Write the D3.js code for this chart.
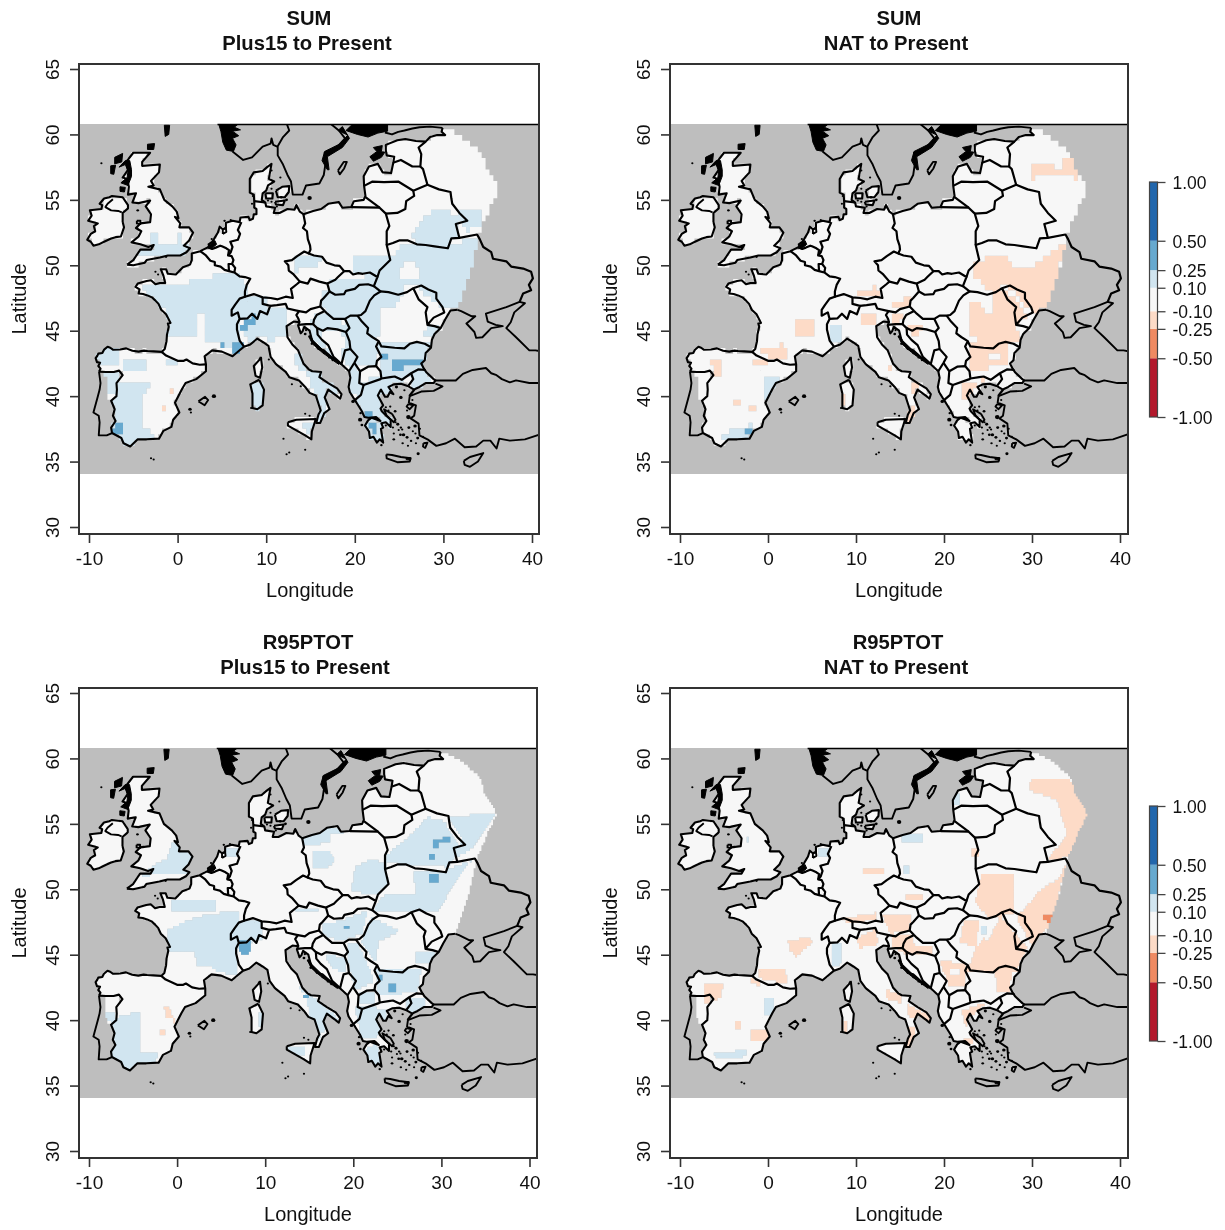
<!DOCTYPE html>
<html><head><meta charset="utf-8">
<script src="https://cdn.jsdelivr.net/npm/d3@7"></script>
<style>
html,body{margin:0;padding:0;background:#fff}
svg{display:block;filter:blur(0.6px)}
text{font-family:"Liberation Sans",Arial,sans-serif;fill:#111}
</style></head><body>
<script>
// ---------- data: class breaks and colours ----------
const breaks=[-1,-0.5,-0.25,-0.1,0.1,0.25,0.5,1];
const classColors=["#b2182b","#ef8a62","#fddbc7","#f7f7f7","#d1e5f0","#67a9cf","#2166ac"];
const xTicks=[-10,0,10,20,30,40];
const yTicks=[30,35,40,45,50,55,60,65];
const L1=0.15,M1=0.35,L2=-0.15,M2=-0.35,Z=0;

// ---------- geography (lon,lat) ----------
const mainlandWest=[[-8.87,41.87],[-8.7,42.1],[-8.95,42.3],[-8.75,42.55],[-9.1,42.6],[-9.25,42.9],[-9.05,43.1],[-8.95,43.25],[-8.5,43.3],[-8.3,43.55],[-7.9,43.77],[-7.6,43.7],[-7.3,43.55],[-6.5,43.57],[-5.8,43.65],[-5.1,43.47],[-4.4,43.4],[-3.8,43.48],[-3.4,43.45],[-2.7,43.42],[-1.8,43.38],[-1.45,43.6],[-1.25,44.2],[-1.2,44.7],[-1.0,45.3],[-1.1,45.55],[-0.8,45.6],[-1.1,46.0],[-1.3,46.25],[-1.85,46.6],[-2.15,47.05],[-2.5,47.3],[-2.9,47.55],[-3.4,47.7],[-3.9,47.8],[-4.4,47.85],[-4.3,48.15],[-4.75,48.35],[-4.5,48.6],[-4.0,48.7],[-3.5,48.8],[-3.0,48.85],[-2.5,48.55],[-2.0,48.65],[-1.4,48.65],[-1.6,49.2],[-1.9,49.7],[-1.3,49.7],[-1.1,49.35],[-0.2,49.3],[0.1,49.5],[0.6,49.85],[1.4,50.05],[1.6,50.4],[1.6,50.9],[2.55,51.08],[3.4,51.37],[3.6,51.45],[3.5,51.6],[3.9,51.8],[4.1,52.0],[4.55,52.5],[4.75,52.95],[5.1,52.75],[5.45,52.85],[5.45,53.25],[6.2,53.4],[7.0,53.3],[7.1,53.65],[8.0,53.7],[8.15,53.45],[8.5,53.55],[8.6,53.9],[8.9,53.9],[8.9,54.3],[8.65,54.4],[8.65,54.9],[8.6,55.4],[8.15,55.55],[8.15,56.2],[8.15,56.6],[8.6,57.1],[9.6,57.2],[10.1,57.5],[10.6,57.75],[10.45,57.2],[10.3,56.6],[10.9,56.4],[10.2,56.1],[10.0,55.7],[9.6,55.5],[9.5,55.0],[9.9,54.8],[10.0,54.5],[11.0,54.4],[10.85,54.0],[11.5,54.0],[12.4,54.3],[13.2,54.25],[13.4,54.6],[13.8,54.1],[14.2,53.9],[15.3,54.15],[16.2,54.3],[17.0,54.7],[18.2,54.83],[18.6,54.4],[19.6,54.45],[19.9,54.9],[21.0,55.0],[21.2,55.3],[21.05,56.07],[21.0,56.8],[21.6,57.55],[22.6,57.75],[23.15,57.1],[24.1,57.05],[24.35,57.85],[24.45,58.3],[23.6,58.4],[23.5,58.8],[23.5,59.2],[24.8,59.55],[25.7,59.65],[26.9,59.5],[28.0,59.45],[28.5,59.8],[29.3,59.95],[30.2,59.95],[29.8,60.2],[29.9,60.5]];
const domainEdge=[[31.1,60.2],[32.4,59.7],[34.4,58.6],[34.8,57.5],[36.3,55.75],[35.6,54.8],[34.1,52.5],[33.0,49.4]];
const mainlandEast=[[31.6,46.6],[30.8,46.55],[30.2,45.85],[29.7,45.2],[29.0,44.75],[28.7,44.3],[28.6,43.7],[28.0,43.3],[27.9,42.75],[27.5,42.5],[27.8,42.1],[28.1,41.8],[28.9,41.3],[29.1,41.2],[28.9,41.0],[28.0,41.0],[27.3,40.7],[26.8,40.55],[26.2,40.05],[26.7,40.5],[26.05,40.75],[25.2,40.95],[24.4,40.9],[23.8,40.7],[24.35,40.15],[23.95,40.3],[23.7,39.95],[23.4,39.95],[22.95,40.5],[22.6,40.05],[23.2,39.3],[22.9,39.05],[23.05,38.85],[23.55,38.5],[24.05,38.2],[24.05,37.65],[23.5,38.0],[23.0,37.93],[23.2,37.6],[22.95,37.5],[23.2,36.45],[22.8,36.7],[22.5,36.45],[22.1,36.9],[21.7,36.8],[21.6,37.3],[21.15,37.75],[21.5,38.15],[21.9,38.35],[22.9,38.1],[22.4,38.4],[21.5,38.35],[21.1,38.4],[20.75,38.9],[20.2,39.5],[20.0,39.7],[19.45,40.3],[19.3,40.7],[19.5,41.4],[19.35,41.9],[18.55,42.4],[17.5,42.9],[16.5,43.5],[15.9,43.6],[15.2,44.2],[14.9,45.0],[14.3,45.3],[14.1,44.95],[13.9,44.8],[13.6,45.4],[13.75,45.65],[13.1,45.7],[12.3,45.35],[12.4,44.5],[13.0,43.9],[13.6,43.5],[14.2,42.5],[14.8,42.05],[15.2,41.9],[16.2,41.85],[16.0,41.45],[17.0,41.0],[18.0,40.6],[18.5,40.15],[18.35,39.8],[18.0,40.0],[17.0,40.5],[16.6,39.9],[17.15,39.0],[16.55,38.7],[16.1,37.95],[15.65,37.95],[15.9,38.6],[16.15,38.9],[15.6,40.05],[14.9,40.25],[14.4,40.7],[13.7,41.2],[12.6,41.45],[12.2,41.85],[11.1,42.45],[10.5,43.0],[10.25,43.85],[9.7,44.1],[9.0,44.4],[8.2,43.95],[7.5,43.78],[6.9,43.45],[6.2,43.05],[5.0,43.4],[3.9,43.5],[3.05,43.05],[3.2,42.43],[3.2,41.9],[2.1,41.3],[0.9,41.0],[0.5,40.55],[-0.3,39.5],[0.2,38.75],[-0.5,38.2],[-0.7,37.65],[-1.6,37.35],[-2.1,36.75],[-3.5,36.7],[-4.5,36.7],[-5.35,36.15],[-6.1,36.4],[-6.35,36.8],[-7.4,37.18],[-7.5,37.6],[-7.0,38.1],[-7.3,38.5],[-7.1,39.0],[-7.5,39.65],[-6.9,40.0],[-6.85,40.5],[-6.9,41.0],[-6.2,41.6],[-6.6,41.95],[-7.2,41.85],[-8.1,41.85],[-8.87,41.87]];
const ireland=[[-6.2,53.3],[-6.05,52.9],[-6.4,52.2],[-7.0,52.15],[-7.5,52.05],[-8.3,51.8],[-8.9,51.6],[-9.5,51.5],[-9.8,51.8],[-10.2,51.95],[-9.8,52.4],[-9.3,52.6],[-9.45,53.0],[-9.0,53.2],[-10.1,53.4],[-9.7,53.8],[-9.9,54.2],[-8.6,54.3],[-8.5,54.6],[-8.8,54.7],[-8.3,55.1],[-7.7,55.2],[-7.4,55.3],[-6.2,55.2],[-5.6,54.6],[-5.6,54.35],[-6.2,54.0],[-6.2,53.3]];
const britain=[[-5.7,50.05],[-5.0,50.4],[-4.5,50.9],[-4.2,51.2],[-3.0,51.2],[-2.7,51.55],[-3.3,51.4],[-4.2,51.6],[-5.2,51.75],[-4.4,52.2],[-4.1,52.6],[-4.7,52.85],[-4.2,53.2],[-3.1,53.3],[-3.0,53.9],[-3.6,54.5],[-3.1,54.95],[-4.4,54.75],[-5.1,54.8],[-4.7,55.5],[-5.6,55.4],[-5.5,56.0],[-5.7,56.6],[-6.2,56.7],[-5.6,57.3],[-5.8,57.9],[-5.0,58.6],[-3.1,58.6],[-4.0,57.9],[-4.0,57.6],[-2.0,57.7],[-2.1,57.1],[-3.0,56.45],[-2.7,56.1],[-3.3,56.0],[-2.0,55.8],[-1.5,55.0],[-0.6,54.5],[-0.1,54.1],[0.1,53.6],[-0.3,53.7],[0.3,53.2],[0.2,52.9],[0.5,52.9],[1.3,52.9],[1.75,52.5],[1.3,51.9],[0.7,51.5],[1.4,51.3],[1.0,51.0],[0.3,50.75],[-1.1,50.75],[-2.0,50.6],[-3.5,50.4],[-3.7,50.2],[-5.0,50.0],[-5.7,50.05]];
const corsica=[[9.4,43.0],[9.55,42.2],[9.3,41.4],[8.8,41.55],[8.6,42.3],[9.2,42.75],[9.4,43.0]];
const sardinia=[[9.2,41.25],[9.75,40.5],[9.6,39.3],[9.0,39.0],[8.45,39.1],[8.45,40.2],[8.2,40.9],[9.2,41.25]];
const sicily=[[12.45,38.0],[13.4,38.2],[15.6,38.25],[15.15,37.3],[15.1,36.7],[14.4,37.0],[13.1,37.5],[12.45,37.75],[12.45,38.0]];
const zealand=[[11.1,55.7],[11.8,56.0],[12.6,56.05],[12.55,55.6],[12.1,55.2],[11.3,55.2],[11.1,55.7]];
const funen=[[9.9,55.5],[10.75,55.5],[10.7,55.1],[10.0,55.1],[9.9,55.5]];
const lolland=[[11.0,54.85],[12.1,54.95],[11.9,54.6],[11.1,54.65],[11.0,54.85]];
const portugalPart=[[-8.2,41.85],[-6.6,41.95],[-6.85,40.5],[-6.9,40.0],[-7.5,39.65],[-8.0,39.9],[-8.2,41.85]];
const dataMask=[mainlandWest.concat(domainEdge,mainlandEast),ireland,britain,corsica,sardinia,sicily,zealand,funen,lolland,portugalPart];

const otherCoasts=[
 [[-8.87,41.87],[-8.7,41.0],[-8.8,40.5],[-9.0,40.0],[-9.5,38.75],[-8.9,38.5],[-8.8,38.0],[-8.9,37.0],[-8.0,37.0],[-7.4,37.18]],
 [[6.2,58.7],[7.4,58.05],[8.4,58.25],[9.6,59.07],[10.5,59.3],[10.6,59.7],[10.8,59.2],[11.3,59.05],[11.3,58.4],[11.9,57.7],[12.4,56.9],[12.8,56.4],[13,55.4],[14.1,55.4],[14.5,56.1],[16,56.25],[16.5,56.9],[16.7,57.8],[16.6,58.6],[17.8,58.9],[18.9,59.7],[18.2,60.3],[17.3,60.8]],
 [[12.3,60.85],[12.6,60.3],[11.9,59.8],[11.3,59.1]],
 [[23.4,60.15],[24.2,60.0],[24.9,60.2],[25.6,60.3],[26.5,60.45],[27.3,60.55],[28.5,60.6],[29.9,60.5]],
 [[31.6,46.6],[32.0,46.5],[33.2,46.1],[33.6,46.1],[32.6,45.55],[33.5,44.9],[33.7,44.45],[34.4,44.5],[35.4,45.2],[36.7,45.35],[35.9,45.45],[35.0,45.7],[34.8,46.3],[37.1,46.8],[38.6,47.2],[39.2,47.1],[38.0,46.4],[37.6,45.65],[37.1,45.2],[38.2,44.5],[39.7,43.5],[40.4,43.5],[41.2,43.4]],
 [[29.1,41.2],[30.3,41.2],[31.4,41.2],[32.2,41.7],[33.3,42.0],[34.8,42.15],[35.4,41.75],[36,41.6],[36.6,41.3],[37.5,41.05],[38.2,41.2],[39.7,41.0],[41.2,41.0]],
 [[26.2,40.0],[27.5,40.35],[28.9,40.4],[29.9,40.75],[29.1,40.95]],
 [[26.2,40.0],[26.1,39.5],[26.9,39.3],[26.7,38.5],[26.3,38.3],[27.2,37.9],[27.3,37.0],[28.2,36.7],[28.4,36.6],[29.2,36.2],[30.3,36.4],[31.3,36.75],[32.4,36.1],[33.7,36.15],[34.5,36.6],[35.3,36.6],[36,36],[36.3,36.75],[37.5,36.6],[39.2,36.7],[41.2,37.15]]
];
const borders=[
 [[-1.8,43.38],[-1.3,43.1],[-0.8,42.95],[0.0,42.7],[0.7,42.7],[1.0,42.8],[1.7,42.5],[2.5,42.4],[3.15,42.43]],
 [[2.55,51.08],[3.2,50.75],[3.7,50.35],[4.2,50.25],[4.2,50.0],[4.85,49.9],[5.3,49.65],[5.8,49.55],[6.4,49.45],[7.0,49.15],[7.6,49.1],[8.2,48.97],[7.8,48.5],[7.6,48.0],[7.6,47.6],[7.0,47.45],[6.5,47.0],[6.1,46.6],[6.1,46.15],[6.8,46.4],[7.0,45.9],[6.7,45.5],[6.7,45.1],[7.0,44.25],[7.5,43.78]],
 [[3.4,51.37],[3.9,51.25],[4.3,51.35],[4.8,51.5],[5.0,51.45],[5.5,51.3],[5.8,51.15],[5.7,50.75],[6.1,50.7],[6.3,50.4],[6.15,50.1],[6.5,49.8],[6.4,49.45]],
 [[5.8,49.55],[5.75,50.1],[6.15,50.1]],
 [[5.7,50.75],[6.0,51.0],[6.2,51.4],[5.95,51.8],[6.8,51.95],[7.05,52.4],[6.8,52.7],[7.2,53.3]],
 [[8.65,54.9],[9.9,54.8]],
 [[14.2,53.9],[14.4,53.2],[14.15,52.85],[14.6,52.6],[14.7,52.0],[14.95,51.5],[15.0,51.2],[14.8,50.9],[14.3,51.05],[13.5,50.7],[12.9,50.4],[12.1,50.3],[12.5,50.0],[12.55,49.6],[13.1,49.3],[13.8,48.75],[13.45,48.55],[12.8,48.2],[13.0,47.5],[12.2,47.6],[11.3,47.4],[10.5,47.5],[9.6,47.55],[8.6,47.8],[7.6,47.6]],
 [[9.6,47.55],[9.6,47.05],[10.45,46.9],[10.1,46.25],[9.3,46.5],[9.0,45.9],[8.4,46.3],[7.9,45.95],[7.0,45.9]],
 [[10.45,46.9],[11.2,46.95],[12.2,47.05],[12.4,46.7],[13.7,46.5],[13.4,46.2],[13.65,45.9],[13.75,45.65]],
 [[13.7,46.5],[14.5,46.4],[15.0,46.65],[16.1,46.85],[16.2,47.3],[16.5,47.5],[17.15,48.0],[16.9,48.6],[16.0,48.75],[15.0,48.98],[14.7,48.6],[13.8,48.75]],
 [[14.8,50.9],[15.4,50.75],[16.3,50.65],[16.8,50.2],[17.7,50.0],[18.3,49.95],[18.8,49.55],[18.1,49.1],[17.8,48.9],[16.9,48.6]],
 [[18.8,49.55],[19.4,49.55],[19.8,49.3],[20.4,49.4],[20.9,49.35],[21.7,49.45],[22.55,49.1],[22.15,48.4],[21.5,48.55],[20.5,48.5],[20.0,48.2],[19.0,48.05],[18.8,47.8],[17.8,47.75],[17.15,48.0]],
 [[22.15,48.4],[22.9,48.0],[22.2,47.7],[21.7,47.3],[21.2,46.5],[20.7,46.2],[20.3,46.15],[19.5,46.15],[18.9,45.9],[17.6,45.9],[16.9,46.3],[16.6,46.5],[16.1,46.85]],
 [[16.6,46.5],[15.7,46.2],[15.4,45.85],[15.3,45.5],[14.5,45.5],[13.6,45.45]],
 [[15.3,45.5],[15.75,45.2],[15.8,44.7],[16.3,44.3],[17.0,43.9],[17.6,43.0],[18.5,42.45]],
 [[15.75,45.2],[16.4,45.0],[16.9,45.2],[18.0,45.1],[19.0,44.9],[19.4,45.2],[18.9,45.9]],
 [[19.0,44.9],[19.4,44.2],[19.5,43.6],[18.9,43.5],[18.5,42.45]],
 [[19.5,43.6],[20.3,43.0],[19.95,42.55],[19.35,41.9]],
 [[19.95,42.55],[20.6,41.9],[20.5,41.0],[21.0,40.85],[22.9,41.3],[23.0,41.35],[22.9,41.9],[22.4,42.3],[21.5,42.25],[20.6,41.9]],
 [[21.0,40.85],[20.7,40.1],[20.0,39.7]],
 [[22.4,42.3],[22.5,42.7],[23.0,43.0],[22.4,43.8],[22.7,44.2],[22.0,44.5],[21.4,44.8],[21.5,45.2],[20.8,45.7],[20.3,46.15]],
 [[22.7,44.2],[23.0,43.8],[24.5,43.7],[25.6,43.65],[26.2,44.0],[27.0,44.15],[27.9,44.0],[28.55,43.75]],
 [[22.9,48.0],[23.8,47.95],[24.9,47.75],[25.9,47.95],[26.6,48.25],[27.5,48.45],[28.3,48.15],[29.2,47.9],[29.2,47.45],[29.9,46.8],[30.1,46.4],[28.9,46.0],[28.2,45.45],[28.0,46.4],[28.2,46.8],[27.2,47.4],[26.6,48.25]],
 [[28.2,45.45],[29.0,45.35],[29.7,45.2]],
 [[23.0,41.35],[24.0,41.45],[24.5,41.5],[25.3,41.25],[26.35,41.75],[27.2,42.05],[28.0,42.0]],
 [[26.35,41.75],[26.6,41.3],[26.05,40.8]],
 [[22.55,49.1],[22.8,49.6],[24.0,50.4],[23.6,51.55],[24.3,51.7],[25.0,51.9],[26.0,51.9],[27.0,51.6],[28.0,51.55],[29.0,51.45],[30.5,51.3],[30.9,52.05],[31.8,52.1],[33.8,52.35],[34.1,52.0],[34.5,51.4],[35.4,51.0],[35.6,50.5],[37.1,50.3],[37.65,49.9],[39.0,49.75],[39.9,49.5],[40.1,49.0],[39.65,48.5],[39.9,48.1],[39.0,47.85],[38.6,47.2]],
 [[23.6,51.55],[23.6,52.6],[23.9,53.0],[23.5,53.95],[22.8,54.4],[19.6,54.45]],
 [[22.8,54.4],[21.2,55.2]],
 [[23.5,53.95],[24.8,54.0],[25.7,54.3],[25.8,54.9],[26.7,55.3],[26.6,55.7],[28.2,56.15],[29.5,55.8],[30.8,55.6],[30.9,55.1],[31.0,54.7],[31.8,54.0],[32.7,53.4],[31.4,53.15],[31.8,52.1]],
 [[21.05,56.07],[22.0,56.4],[23.3,56.35],[24.9,56.4],[26.6,55.7]],
 [[28.2,56.15],[27.7,57.35],[27.4,57.55],[27.5,58.5],[27.2,59.0],[28.0,59.45]],
 [[24.4,57.85],[25.2,58.05],[26.5,57.55],[27.4,57.55]]
];
// solid black clusters of fjords and skerries
const blackMasses=[
 [[4.6,60.88],[7.0,60.88],[6.4,60.55],[7.1,60.35],[6.2,60.25],[6.9,59.9],[6.2,59.7],[6.6,59.2],[6.3,58.7],[5.5,58.8],[5.1,59.4],[4.9,60.2]],
 [[19.0,60.3],[19.9,60.88],[23.7,60.88],[23.7,60.25],[22.6,60.1],[21.5,59.8],[20.3,60.0]],
 [[19.2,59.95],[18.4,59.3],[16.6,58.7],[16.3,58.0],[16.9,57.3],[17.1,57.3],[16.9,58.3],[18.6,59.0],[19.4,59.7],[18.6,60.6],[18.1,60.3]],
 [[21.7,58.3],[22.5,58.7],[23.4,58.65],[23.0,58.25],[22.1,57.95]],
 [[22.1,59.0],[23.1,59.15],[23.0,58.7],[22.4,58.75]],
 [[-6.6,57.5],[-5.9,57.7],[-5.6,57.2],[-5.7,56.7],[-6.4,56.3],[-5.6,56.1],[-5.2,56.8],[-5.2,57.3],[-5.4,58.0],[-5.9,58.0]],
 [[-7.1,58.25],[-6.2,58.55],[-6.3,57.9],[-7.1,57.75]],
 [[-7.55,57.6],[-7.0,57.65],[-7.2,56.95],[-7.55,57.0]],
 [[-6.5,56.0],[-5.9,55.95],[-6.0,55.6],[-6.5,55.65]],
 [[-1.5,60.7],[-0.9,60.7],[-1.0,60.0],[-1.4,59.85]],
 [[-3.4,59.25],[-2.6,59.3],[-2.7,58.85],[-3.4,58.85]],
 [[3.4,51.45],[4.2,51.9],[4.4,51.6],[3.8,51.25]],
 [[15.0,44.6],[15.3,44.25],[16.3,43.6],[17.4,43.0],[18.3,42.5],[18.2,42.42],[17.3,42.85],[16.3,43.35],[15.2,44.0],[14.85,44.5]],
 [[25.8,35.3],[26.3,35.3],[26.3,35.1],[25.8,35.15]]
];
// closed outlines only (fill stays grey or white)
const islandLoops=[
 [[18.1,57.25],[18.75,57.9],[19.1,57.9],[18.8,57.4],[18.3,56.95],[18.1,57.25]],
 [[23.55,35.55],[24.2,35.5],[25.2,35.35],[26.3,35.25],[26.2,35.0],[24.8,34.95],[23.6,35.25],[23.55,35.55]],
 [[32.3,35.05],[33.0,35.35],[34.5,35.65],[33.9,35.0],[33.0,34.6],[32.4,34.75],[32.3,35.05]],
 [[2.35,39.6],[3.1,39.95],[3.45,39.7],[3.05,39.3],[2.6,39.5],[2.35,39.6]],
 [[5.1,52.4],[5.5,52.55],[5.45,52.85],[5.1,52.75],[5.1,52.4]],
 [[24.2,38.65],[23.3,39.0],[23.6,38.5],[24.4,38.0],[24.6,38.2],[24.2,38.65]],
 [[26.05,39.4],[26.6,39.3],[26.2,39.0],[25.85,39.2],[26.05,39.4]],
 [[27.75,36.4],[28.2,36.45],[27.95,36.05],[27.7,36.15],[27.75,36.4]],
 [[-4.6,53.4],[-4.2,53.4],[-4.2,53.15],[-4.6,53.2],[-4.6,53.4]],
 [[-7.3,55.05],[-7.9,54.7],[-8.15,54.45],[-7.5,54.2],[-6.7,54.15],[-6.3,54.05]]
];
// small islets: lon, lat, radius in degrees
const islets=[[-8.6,57.8,.08],[-3.0,35.25,.07],[-2.7,35.15,.06],[12.3,35.55,.08],[11.95,36.75,.09],[12.6,35.7,.06],[14.4,35.9,.1],[14.9,38.5,.09],[14.4,38.65,.06],[10.3,42.8,.1],[12.9,40.9,.06],[13.9,40.75,.07],[8.3,39.1,.06],[1.4,39.0,.2],[4.1,40.0,.24],[1.5,38.75,.09],[-1.3,50.65,.14],[-4.5,54.2,.15],[-2.2,49.3,.07],[-2.5,49.5,.06],[14.9,55.15,.25],[11.2,54.5,.12],[13.4,54.45,.18],[10.6,55.85,.1],[10.6,57.25,.08],[11.6,56.7,.08],[5.3,53.4,.14],[6.0,53.47,.1],[8.4,54.7,.12],[8.5,55.3,.1],[3.85,52.0,.07],[11.7,55.2,.16],[12.3,55.0,.16],[10.2,54.95,.12],[10.6,54.85,.12],[14.5,45.05,.14],[14.4,44.75,.16],[14.9,44.55,.16],[15.15,44.0,.14],[16.55,43.3,.16],[16.9,43.15,.14],[17.1,42.95,.12],[17.5,42.75,.1],[19.8,39.6,.2],[20.65,38.7,.14],[20.6,38.2,.24],[20.8,37.8,.16],[23.0,36.25,.14],[24.7,40.7,.18],[25.6,40.45,.13],[25.2,39.9,.2],[24.55,38.85,.16],[23.5,39.15,.13],[24.0,39.2,.13],[24.85,37.85,.18],[25.2,37.6,.14],[24.95,37.42,.12],[25.35,37.45,.13],[24.3,37.6,.13],[24.4,37.15,.12],[24.4,36.7,.15],[25.15,37.05,.16],[25.5,37.05,.2],[25.9,36.85,.17],[25.4,36.4,.14],[26.1,37.6,.17],[26.8,37.72,.2],[26.05,38.4,.26],[26.55,37.32,.11],[26.85,37.15,.13],[27.1,36.8,.17],[26.35,36.58,.14],[27.15,35.6,.18],[27.35,37.5,.12],[26.0,36.2,.1],[23.5,37.75,.12],[23.8,38.9,.12],[24.6,38.0,.12],[26.9,36.4,.12],[27.7,36.9,.12],[26.5,39.7,.12],[25.9,38.9,.1]];

// ---------- data: read regional values for each panel (lon,lat rings) ----------
const sumPlus15Regions=[
 {v:L1,ring:[[-4.6,48.6],[0,48.5],[2.5,48.9],[5,49.4],[6.8,49.4],[8,48],[7.7,47],[6.9,46],[7.1,44.5],[6.8,43.5],[5,43.9],[3.2,44.1],[3.3,45],[3,46.3],[2.2,46.3],[2.0,44.5],[-1.3,44.6],[-1.3,46.5],[-2.4,47.2]]},
 {v:L1,ring:[[6.2,47.5],[10,47.6],[10,46.2],[8,45.9],[6.2,46.1]]},
 {v:L1,ring:[[8.8,46.6],[12.3,46.8],[12.3,45.5],[12.4,44.5],[10.6,44.3],[9.0,44.4],[8,44.2],[7.2,45]]},
 {v:L1,ring:[[13.6,43.6],[15.2,42.2],[16.8,41.3],[18.6,40.1],[16.6,39.5],[16.8,38.6],[16,38],[15.4,40.2],[14.8,41.4],[13.1,42.6]]},
 {v:L1,ring:[[8.0,41.0],[9.9,41.0],[9.9,39],[8.0,39]]},
 {v:L1,ring:[[13.8,37.9],[15.2,37.9],[15.2,37.2],[14.5,37.2]]},
 {v:M1,ring:[[6.9,44.9],[7.6,45.0],[9.1,45.95],[8.5,46.2],[7.5,45.6],[7.1,45.3]]},
 {v:M1,ring:[[4.7,44.05],[5.5,44.05],[5.5,43.6],[4.7,43.6]]},
 {v:M1,ring:[[6.05,43.9],[7.45,43.9],[7.45,43.35],[6.05,43.35]]},
 {v:L1,ring:[[-4.5,51.6],[-3.3,51.7],[-3.2,52.5],[-2.4,52.5],[-2.4,51.7],[-0.2,51.75],[-0.2,52.5],[0.6,52.5],[0.6,51.7],[1.5,51.7],[1.5,50.7],[-4.5,50.6]]},
 {v:L1,ring:[[27.0,53],[28.8,54.2],[30.3,54.35],[31.8,53.4],[31.45,52.2],[30.3,51.4],[26.2,51.9]]},
 {v:L1,ring:[[31.5,54.35],[34.3,54.4],[34.2,53],[32.6,52.6],[31.9,53.2]]},
 {v:L1,ring:[[23.9,50.4],[25.4,51.7],[30.3,51.4],[34.5,52.3],[31.9,46.6],[30,46.6],[27,48.4],[22.7,48.1],[22.2,48.6],[23.5,49.4]]},
 {v:Z,ring:[[25,49.9],[26.9,50.4],[27.2,49.2],[25.3,48.9]]},
 {v:L1,ring:[[17,48.9],[19.5,49.0],[22.4,48.9],[22.4,47.9],[17,47.7]]},
 {v:L1,ring:[[19.8,50.6],[24.1,50.7],[23.8,49.3],[22.5,49.0],[20,49.3]]},
 {v:L1,ring:[[16.1,47.9],[18.6,48.2],[20,48.6],[22.2,48.5],[22.9,47.9],[21.5,46.9],[20.3,45.9],[18.6,45.7],[16.8,46.1]]},
 {v:M1,ring:[[19.8,47.4],[20.5,47.4],[20.5,47.2],[19.8,47.2]]},
 {v:L1,ring:[[13,50.7],[16.2,50.5],[15.5,49.9],[13,49.5]]},
 {v:L1,ring:[[15.5,46.3],[18.6,45.7],[19.2,44.7],[16.5,45.0],[15.9,44.6],[17.4,43.4],[17.5,42.7],[15.2,44.2],[14.9,45.4]]},
 {v:L1,ring:[[19,46],[22.5,45.5],[22.6,43.0],[22.3,42.2],[19.9,42.3],[18.9,42.2],[18.6,43.4],[19.1,44.9]]},
 {v:L1,ring:[[19.2,42.8],[20.7,42],[20.8,40.0],[19.2,40.2]]},
 {v:L1,ring:[[21.5,47.9],[25.4,47.9],[24.5,46.6],[23,46.7],[22.7,45.5],[23,44.3],[21.5,44.5],[20.2,46]]},
 {v:L1,ring:[[22.8,44.4],[28.8,44.4],[29.5,45.4],[27.9,45.2],[27.9,44.6],[23.0,44.6]]},
 {v:L1,ring:[[22.5,44],[28.8,43.9],[28.3,42.2],[27.5,41.6],[23,41.4]]},
 {v:M1,ring:[[24.2,42.95],[27.7,42.95],[27.7,42.55],[25.5,42.55],[25.4,41.9],[24.2,41.95]]},
 {v:M1,ring:[[23.0,43.3],[23.6,43.3],[23.6,42.8],[23.0,42.8]]},
 {v:L1,ring:[[26.3,41.9],[28.4,41.8],[28.8,41],[26.2,40.6]]},
 {v:L1,ring:[[20.8,41.2],[26.2,41.6],[24.2,40.8],[23.5,39.2],[24.2,38],[23,36.4],[21.2,37],[20,39.2]]},
 {v:M1,ring:[[21.2,39],[21.9,38.95],[21.9,38.5],[21.2,38.5]]},
 {v:M1,ring:[[21.4,38.1],[22.6,38.1],[22.6,37],[22.1,37],[21.7,37.5]]},
 {v:L1,ring:[[-9.4,43.9],[-6.4,43.9],[-6.4,42.5],[-8.9,42.2]]},
 {v:L1,ring:[[-6,43.0],[-3.6,43.0],[-3.6,41.9],[-6,41.9]]},
 {v:L1,ring:[[-8.2,41.9],[-6.6,41.9],[-6.7,40.1],[-7.5,39.9],[-8.0,40.1]]},
 {v:L1,ring:[[-7.0,41],[-2.8,41],[-4.1,40],[-4.1,37.4],[-2,37.2],[-3,36.6],[-5.6,36],[-7.6,37.1],[-7.4,39]]},
 {v:L1,ring:[[-1.5,42.7],[0.1,42.7],[0.1,42.2],[-1.5,42.2]]},
 {v:M1,ring:[[-7.0,38.1],[-6,38.1],[-6,37],[-7.4,37]]},
 {v:L2,ring:[[-1,40.6],[-0.4,40.6],[-0.4,40.2],[-1,40.2]]},
 {v:L2,ring:[[-1.6,39.1],[-1.2,39.1],[-1.2,38.9],[-1.6,38.9]]}
];
const sumNatRegions=[
 {v:L2,ring:[[23.5,50.1],[26.4,51],[28.5,49.6],[30.5,50.1],[33.9,51.7],[31.7,46.6],[30,46.4],[27.2,48.4],[24.8,48],[23.3,49.4]]},
 {v:L2,ring:[[23,47],[23.7,47.3],[25.2,46],[25.6,47.9],[27.1,48.2],[29.4,46.1],[28.1,45.5],[29.2,44],[22.6,44.4],[23,46]]},
 {v:L2,ring:[[22.8,44],[27.4,44],[27.5,42.2],[25.4,42.6],[25.2,42],[22.9,42]]},
 {v:Z,ring:[[25.0,43.1],[26.3,43.1],[26.3,42.6],[25.0,42.6]]},
 {v:L2,ring:[[22,41.1],[24.5,41.3],[23,40],[22,39.8]]},
 {v:L2,ring:[[30,58],[33.4,57.4],[33.8,58.4],[34.9,58.1],[35.1,56.6],[32.8,57],[30.5,57],[30,56.4]]},
 {v:L2,ring:[[2.9,46],[4,45.7],[5.2,46.1],[5.2,44.6],[3.3,44.6]]},
 {v:L2,ring:[[-1.1,43.5],[1.75,44],[2.5,42.7],[0.2,42.9]]},
 {v:L2,ring:[[10.5,46.4],[12.2,46.2],[12.3,45.7],[10.6,45.3]]},
 {v:L2,ring:[[13.9,46.5],[15.8,46.5],[15,45.5],[14,45.5]]},
 {v:L2,ring:[[13.9,46.8],[16.3,47.9],[16.2,46.8]]},
 {v:L2,ring:[[9.7,47.8],[12.4,48.4],[12.7,47.6],[10,47.6]]},
 {v:L2,ring:[[15.4,45.5],[17.6,45.5],[16.9,44.5],[16,44.8]]},
 {v:L2,ring:[[-6.6,42.7],[-5.5,42.7],[-5.3,41.2],[-6.2,41.7]]},
 {v:L2,ring:[[-2,42.9],[-0.2,42.6],[-0.2,42.35],[-2,42.6]]},
 {v:L2,ring:[[-4.1,39.9],[-3.0,39.9],[-3.0,39.1],[-4.1,39.1]]},
 {v:L2,ring:[[-2.2,39.3],[-1.5,39.3],[-1.5,38.8],[-2.2,38.8]]},
 {v:L2,ring:[[13.5,42.4],[14.1,42.4],[14.1,41.9],[13.5,41.9]]},
 {v:L2,ring:[[16.1,41],[17.2,40.9],[17.2,40.4],[16.1,40.3]]},
 {v:L2,ring:[[16,39.4],[16.7,39.4],[16.7,38.4],[15.8,38]]},
 {v:L2,ring:[[8.5,40],[9,40],[9,39.1],[8.5,39.1]]},
 {v:L1,ring:[[-0.5,41.3],[1.8,41.7],[1,40.7],[-0.2,39.8],[-0.6,39.7]]},
 {v:L1,ring:[[7.1,45.6],[8.2,45.6],[8.2,44.3],[7.1,44.0]]},
 {v:L1,ring:[[-5.6,37.2],[-2.8,37.4],[-1.9,37.8],[-1.7,36.9],[-5,36.4]]},
 {v:M1,ring:[[-2.8,37.6],[-1.8,37.6],[-1.9,37.0],[-2.8,37.0]]},
 {v:L1,ring:[[3.1,44.3],[3.5,44.3],[3.5,43.9],[3.1,43.9]]},
 {v:L1,ring:[[15.4,53.9],[16,53.9],[16,53.75],[15.4,53.75]]}
];
const r95Plus15Regions=[
 {v:L1,ring:[[23.9,52.7],[26,53.8],[28.4,55.5],[30.3,55.2],[32.2,53.2],[30.7,51.7],[23.5,52]]},
 {v:L1,ring:[[30.7,55.5],[36.4,55.9],[33.7,53.2],[31.7,52.4],[32.3,54]]},
 {v:M1,ring:[[29.0,53.9],[30.2,53.9],[30.2,54.0],[31.0,54.0],[31.0,53.5],[29.6,53.5],[29.6,53.2],[29.0,53.2]]},
 {v:M1,ring:[[28.6,52.8],[29.3,52.8],[29.3,52.3],[28.6,52.3]]},
 {v:L1,ring:[[26.9,51.4],[30.3,51.4],[33.4,52.2],[31.9,50.9],[29.6,48.3],[27,48.3],[22.3,48.3],[23.2,49.5],[27,49.6]]},
 {v:M1,ring:[[28.7,51.1],[29.6,51.1],[29.6,50.6],[28.7,50.6]]},
 {v:L1,ring:[[14.3,54.6],[16.5,54.7],[18.6,54.8],[19.0,54],[16.5,53.5],[14.4,53.3]]},
 {v:L1,ring:[[15.3,52.8],[17.2,52.9],[17.9,52.2],[17.2,51.7],[15.3,51.7]]},
 {v:L1,ring:[[20.2,51.7],[22,52.3],[23.8,52.0],[23.9,50.4],[22.5,49.5],[19.8,49.9]]},
 {v:Z,ring:[[17.3,54.3],[19.6,54.3],[19.6,53.5],[17.3,53.5]]},
 {v:L1,ring:[[-1.2,46.8],[1,47.6],[3,48],[5,48.2],[7,48.2],[7,46.5],[6.8,43.5],[5,43.6],[3.6,44.1],[2.2,44.1],[2,45.2],[-1.2,45.3]]},
 {v:L1,ring:[[-0.6,49.1],[4.4,49.1],[4.4,48.4],[-0.6,48.2]]},
 {v:L1,ring:[[6.2,47.5],[9.7,47.6],[9.7,46.2],[8,45.9],[6.2,46.1]]},
 {v:M1,ring:[[7,46.0],[8.3,46.1],[8.4,45.2],[7.2,44.9]]},
 {v:M1,ring:[[4.3,47.75],[4.5,47.75],[4.5,47.5],[4.3,47.5]]},
 {v:L1,ring:[[16.4,47.3],[18.6,47.6],[21.7,48.4],[21,46.6],[18.5,46],[16.4,46.6]]},
 {v:M1,ring:[[19,47.3],[19.6,47.3],[19.6,47.0],[19,47.0]]},
 {v:L1,ring:[[20.9,46],[22,47.9],[25.2,46.8],[22.9,46],[22.5,44.4]]},
 {v:L1,ring:[[27,45.3],[29.2,45.3],[29.2,44.4],[27,44.4]]},
 {v:L1,ring:[[19.4,46],[20.6,45.8],[22.4,43],[20.2,42.2],[19.4,44.5]]},
 {v:L1,ring:[[16.8,45],[19.1,44.8],[19.1,43.6],[17.5,44]]},
 {v:L1,ring:[[22.5,43.8],[27.7,43.8],[27.3,42.2],[24,41.9],[22.8,42]]},
 {v:M1,ring:[[24,42.9],[24.9,42.9],[24.9,42.2],[24,42.2]]},
 {v:M1,ring:[[22.9,43.4],[23.3,43.4],[23.3,43],[22.9,43]]},
 {v:L1,ring:[[20.6,42.2],[22.5,42.2],[22.5,41.2],[20.6,41.2]]},
 {v:L1,ring:[[26,41.7],[28.2,41.7],[28.2,40.7],[26,40.7]]},
 {v:L1,ring:[[20.2,41],[23.8,40.9],[23.9,39],[21.5,38.5],[20.8,38.8]]},
 {v:L1,ring:[[21,37.7],[22.7,38.2],[23.3,36.5],[22,36.5]]},
 {v:L1,ring:[[13.4,42.8],[15.2,41.9],[17.9,40.4],[18.6,39.8],[16.3,39],[16,38.1],[15.6,39.9],[15,40.3],[14.9,40.9],[14.6,41.9]]},
 {v:M1,ring:[[14.3,41.98],[14.9,41.98],[14.9,41.7],[14.3,41.7]]},
 {v:L1,ring:[[12.6,37.9],[14.6,37.9],[14.6,37.4],[12.6,37.4]]},
 {v:L1,ring:[[9.2,40.5],[9.9,40.5],[9.9,39.6],[9.2,39.6]]},
 {v:L1,ring:[[-4,51.2],[-2.5,51.9],[-1.2,52.3],[-0.6,53.6],[0.7,53.4],[1.8,52.4],[1.5,51.2],[-2,51.2],[-4.1,50.9]]},
 {v:L1,ring:[[5.4,53.2],[7,53.2],[7,52.4],[5.4,52.4]]},
 {v:L1,ring:[[13.4,48.6],[16,48.6],[16,48.3],[13.4,48.3]]},
 {v:L1,ring:[[-7.4,40.1],[-4.2,40.7],[-4.2,37.6],[-2,37.4],[-2.6,36.6],[-5.8,35.9],[-7.6,37.1]]},
 {v:L1,ring:[[-8.2,40.6],[-7,40.6],[-7,40.0],[-8.2,40.0]]},
 {v:L2,ring:[[-1.5,41],[-0.8,41],[-0.5,40.2],[-1.2,40.2]]},
 {v:L2,ring:[[-1.9,39.3],[-1.3,39.3],[-1.3,38.8],[-1.9,38.8]]},
 {v:L2,ring:[[-0.5,40.2],[-0.2,40.2],[-0.2,39.7],[-0.5,39.7]]}
];
const r95NatRegions=[
 {v:L2,ring:[[24.3,51.2],[27.9,51.2],[27.9,48.1],[25,47.8],[23.5,49.1]]},
 {v:L2,ring:[[34,52.2],[32.2,47.4],[30,45.6],[28.2,47.9],[29.8,49],[31,50],[33,50.8]]},
 {v:M2,ring:[[31.3,48.15],[32.3,48.15],[32.2,47.5],[31.3,47.55]]},
 {v:L2,ring:[[29.8,58.3],[32,58.5],[34,58.5],[35.1,57.8],[36.4,55.8],[34.3,52.4],[31.8,52.3],[34,54.2],[32.8,56.8],[30.9,57.3],[29.8,57.5]]},
 {v:L2,ring:[[26.4,48],[29.5,45.5],[28.5,44.2],[22.9,44.2],[23.3,45],[24.5,46.3],[25,46]]},
 {v:L2,ring:[[22.2,47.6],[24,47.6],[23.7,45.5],[21.8,46]]},
 {v:L1,ring:[[24.3,47.2],[24.9,47.2],[24.9,46.5],[24.3,46.5]]},
 {v:L2,ring:[[22.4,44.1],[28.4,44.1],[28.4,43.7],[22.4,43.7]]},
 {v:L2,ring:[[25.8,43.7],[27.7,43.7],[27.5,42.2],[26,42.2]]},
 {v:L2,ring:[[22,40.7],[25.3,41.5],[23,40.2],[22.4,39.4]]},
 {v:L2,ring:[[22.3,38.7],[23.4,38.5],[23.4,38.2],[22.3,38.3]]},
 {v:L2,ring:[[-1.1,43.9],[1.9,44],[2.3,42.7],[-1.2,43.2]]},
 {v:L2,ring:[[2.3,46],[4.7,46.4],[5.1,46],[3.2,44.8],[2.5,45.3]]},
 {v:L2,ring:[[8.4,47.8],[12.3,48.2],[12.3,47.7],[9,47.3]]},
 {v:L2,ring:[[10.7,51.5],[13.2,51.6],[13.2,51.1],[10.8,51.1]]},
 {v:L2,ring:[[13,48.1],[16.4,48.1],[16,46.8],[13.8,46.6]]},
 {v:L2,ring:[[10.0,46.2],[12.2,47],[12.6,45.8],[10.4,45.5]]},
 {v:L2,ring:[[14,46.6],[16.4,46.6],[16.4,45.8],[18.6,45.6],[18.6,45.1],[15.5,45.1],[14,45.6]]},
 {v:L2,ring:[[19.4,44.6],[22.5,44.3],[22.4,42.6],[20.6,42.6]]},
 {v:Z,ring:[[20.6,44],[21.7,44],[21.7,43.5],[20.6,43.5]]},
 {v:L2,ring:[[-7.2,42.7],[-5,42.9],[-5.4,41.7],[-6.2,41.4],[-7.2,41.6]]},
 {v:L2,ring:[[-7.3,41.8],[-6.4,41.8],[-6.4,41.2],[-7.3,41.2]]},
 {v:L2,ring:[[-3.8,40],[-3,40],[-3,39.2],[-3.8,39.2]]},
 {v:L2,ring:[[-2,39.3],[-0.1,39.3],[-0.1,38.4],[-2,38.4]]},
 {v:L2,ring:[[-2,43.2],[-0.8,43],[-0.8,42.6],[-2,42.8]]},
 {v:L2,ring:[[13.4,42.4],[15.2,41.9],[15.2,41.3],[13.5,41.6]]},
 {v:L2,ring:[[15.8,41.2],[18.4,40.4],[18.4,39.9],[15.8,40.3]]},
 {v:L2,ring:[[15.9,39.6],[16.7,39.6],[16.7,38.2],[15.6,37.9]]},
 {v:L2,ring:[[8.5,40],[9,40],[9,39.1],[8.5,39.1]]},
 {v:L2,ring:[[15.7,49.7],[17.7,49.7],[17.7,49.1],[15.7,49.1]]},
 {v:L2,ring:[[23.1,53.2],[23.9,53.2],[23.9,52.5],[23.1,52.5]]},
 {v:L1,ring:[[7.2,45.8],[8.3,45.8],[8.3,44.3],[7.2,44.0]]},
 {v:L1,ring:[[-0.4,41.8],[0.7,41.8],[0.7,40.4],[-0.4,40.4]]},
 {v:L1,ring:[[-6.1,37.5],[-2.4,37.7],[-2.4,37.2],[-5.9,37.1]]},
 {v:L1,ring:[[21.1,57.3],[21.7,57.3],[21.7,56.4],[21.1,56.4]]},
 {v:L1,ring:[[5.8,53.2],[7,53.2],[7,52.4],[5.8,52.4]]},
 {v:L1,ring:[[15.2,54.2],[17.7,54.2],[17.7,53.5],[15.2,53.5]]},
 {v:L1,ring:[[15.4,51.8],[16.1,51.8],[16.1,51.1],[15.4,51.1]]},
 {v:L1,ring:[[-2.5,54],[-2.1,54],[-2.1,53.5],[-2.5,53.5]]}
];

// ---------- page ----------
const W=1225,H=1230;
const svg=d3.select("body").append("svg").attr("width",W).attr("height",H).attr("viewBox",`0 0 ${W} ${H}`);
const color=d3.scaleThreshold().domain(breaks.slice(1,-1)).range(classColors);
const panels=[
 {t1:"SUM",t2:"Plus15 to Present",regions:sumPlus15Regions,step:.44,left:79,right:539,top:64,bottom:534,x0:89,x1:532,y0:527,y1:69,tc1:309,tc2:307,xl:310,gt:124,gb:474},
 {t1:"SUM",t2:"NAT to Present",regions:sumNatRegions,step:.44,left:670,right:1128,top:64,bottom:534,x0:680,x1:1120,y0:527,y1:69,tc1:899,tc2:896,xl:899,gt:124,gb:474},
 {t1:"R95PTOT",t2:"Plus15 to Present",regions:r95Plus15Regions,step:.22,left:79,right:537,top:688,bottom:1158,x0:89,x1:529.5,y0:1151,y1:693,tc1:308,tc2:305,xl:308,gt:748,gb:1098},
 {t1:"R95PTOT",t2:"NAT to Present",regions:r95NatRegions,step:.22,left:670,right:1128,top:688,bottom:1158,x0:680,x1:1120,y0:1151,y1:693,tc1:898,tc2:896,xl:899,gt:748,gb:1098}
];
const inMask=p=>dataMask.some(r=>d3.polygonContains(r,p));

panels.forEach((P,i)=>{
  const x=d3.scaleLinear().domain([-10,40]).range([P.x0,P.x1]);
  const y=d3.scaleLinear().domain([30,65]).range([P.y0,P.y1]);
  const g=svg.append("g");
  const id="clip"+i;
  g.append("clipPath").attr("id",id).append("rect").attr("x",P.left).attr("y",P.gt).attr("width",P.right-P.left).attr("height",P.gb-P.gt);
  g.append("rect").attr("x",P.left).attr("y",P.gt).attr("width",P.right-P.left).attr("height",P.gb-P.gt).attr("fill","#bebebe");
  const map=g.append("g").attr("clip-path",`url(#${id})`);
  // raster of value classes
  const paths=new Map(classColors.map(c=>[c,[]]));
  const s=P.step;
  for(let lon=-11+s/2;lon<41;lon+=s){
    for(let lat=34+s/2;lat<61;lat+=s){
      const p=[lon,lat];
      if(!inMask(p)) continue;
      let v=0;
      for(const R of P.regions) if(d3.polygonContains(R.ring,p)) v=R.v;
      const x0=x(lon-s/2),x1=x(lon+s/2),y0=y(lat+s/2),y1=y(lat-s/2);
      paths.get(color(v)).push(`M${x0.toFixed(2)} ${y0.toFixed(2)}H${x1.toFixed(2)}V${y1.toFixed(2)}H${x0.toFixed(2)}Z`);
    }
  }
  classColors.forEach(c=>{const d=paths.get(c).join("");if(d)map.append("path").attr("d",d).attr("fill",c);});
  // outlines
  const line=d3.line().x(d=>x(d[0])).y(d=>y(d[1]));
  const draw=(arr,w)=>arr.forEach(a=>map.append("path").attr("d",line(a)).attr("fill","none").attr("stroke","#000").attr("stroke-width",w).attr("stroke-linejoin","round"));
  draw([mainlandWest,mainlandEast,ireland,britain,corsica,sardinia,sicily,zealand,funen,lolland],2.1);
  draw(otherCoasts,1.9);
  draw(borders,2.2);
  draw(islandLoops,1.9);
  blackMasses.forEach(a=>map.append("path").attr("d",line(a)+"Z").attr("fill","#000").attr("stroke","#000").attr("stroke-width",1));
  map.selectAll(null).data(islets).join("ellipse").attr("cx",d=>x(d[0])).attr("cy",d=>y(d[1])).attr("rx",d=>Math.max(1.1,d[2]*8.8)).attr("ry",d=>Math.max(1,d[2]*8)).attr("fill","#000");
  // top edge of the map window
  g.append("line").attr("x1",x(4.5)).attr("x2",P.right).attr("y1",P.gt+.5).attr("y2",P.gt+.5).attr("stroke","#000").attr("stroke-width",1.6);
  // box and axes
  g.append("rect").attr("x",P.left).attr("y",P.top).attr("width",P.right-P.left).attr("height",P.bottom-P.top).attr("fill","none").attr("stroke","#333").attr("stroke-width",2);
  const ax=g.append("g").attr("transform",`translate(0,${P.bottom})`).call(d3.axisBottom(x).tickValues(xTicks).tickSize(9).tickSizeOuter(0).tickFormat(d=>String(d)));
  ax.select(".domain").remove();
  ax.selectAll("line").attr("stroke","#333").attr("stroke-width",1.6);
  ax.selectAll("text").attr("y",0).attr("dy",0).attr("transform","translate(0,31)").attr("font-size",19).attr("fill","#111");
  const ay=g.append("g").attr("transform",`translate(${P.left},0)`).call(d3.axisLeft(y).tickValues(yTicks).tickSize(9).tickSizeOuter(0));
  ay.select(".domain").remove();
  ay.selectAll("line").attr("stroke","#333").attr("stroke-width",1.6);
  ay.selectAll("text").attr("x",0).attr("y",0).attr("dy",0).attr("text-anchor","middle").attr("transform","translate(-20,0) rotate(-90)").attr("font-size",19).attr("fill","#111");
  // titles
  g.append("text").attr("x",P.tc1).attr("y",P.top-39).attr("text-anchor","middle").attr("font-weight","bold").attr("font-size",20.2).text(P.t1);
  g.append("text").attr("x",P.tc2).attr("y",P.top-14).attr("text-anchor","middle").attr("font-weight","bold").attr("font-size",20.2).text(P.t2);
  g.append("text").attr("x",P.xl).attr("y",P.bottom+63).attr("text-anchor","middle").attr("font-size",20).text("Longitude");
  g.append("text").attr("transform",`translate(${P.left-53},${(P.top+P.bottom)/2}) rotate(-90)`).attr("text-anchor","middle").attr("font-size",20).text("Latitude");
});

// colour bars
[[417,182],[1041,806]].forEach(r=>{
  const sc=d3.scaleLinear().domain([-1,1]).range(r);
  const g=svg.append("g");
  classColors.forEach((c,i)=>g.append("rect").attr("x",1149.5).attr("width",8).attr("y",sc(breaks[i+1])).attr("height",sc(breaks[i])-sc(breaks[i+1])).attr("fill",c));
  g.append("rect").attr("x",1149.5).attr("width",8).attr("y",sc(1)).attr("height",sc(-1)-sc(1)).attr("fill","none").attr("stroke","#444").attr("stroke-width",1.2);
  const a=g.append("g").attr("transform","translate(1157.5,0)").call(d3.axisRight(sc).tickValues(breaks).tickSize(8).tickSizeOuter(0).tickFormat(d=>d3.format(".2f")(d).replace("\u2212","-")));
  a.select(".domain").remove();
  a.selectAll("line").attr("stroke","#444").attr("stroke-width",1.3);
  a.selectAll("text").attr("x",15).attr("dy","0.36em").attr("font-size",17.5).attr("fill","#111");
});
</script>
</body></html>
